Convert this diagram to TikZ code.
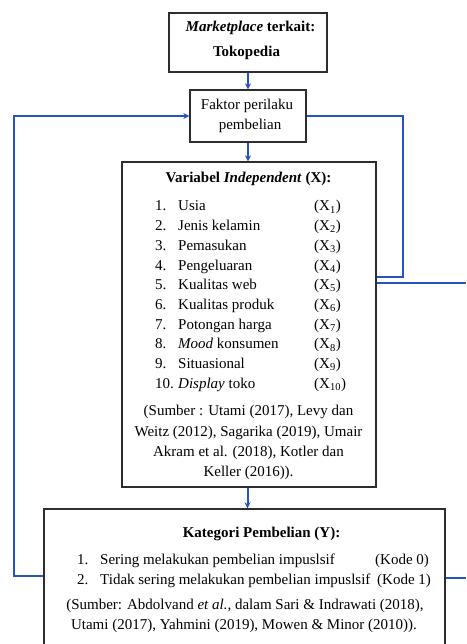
\documentclass[tikz,border=0pt]{standalone}
\usepackage{fontspec}
\setmainfont{Liberation Serif}
\usetikzlibrary{arrows.meta}
\definecolor{lnblue}{RGB}{38,84,190}
\definecolor{boxgray}{RGB}{45,45,45}
\begin{document}
\begin{tikzpicture}[x=1pt,y=-1pt,
  box/.style={draw=boxgray, line width=1.4pt, inner sep=0pt, fill=white},
  conn/.style={draw=lnblue, line width=2pt},
  arr/.style={conn, -{Stealth[length=6pt,width=6pt]}},
  txt/.style={inner sep=0pt, font=\fontsize{15}{19}\selectfont, anchor=base west},
  ctxt/.style={inner sep=0pt, font=\fontsize{15}{19}\selectfont, anchor=base}
]
\clip (0,0) rectangle (466,644);
\fill[white] (0,0) rectangle (466,644);

% boxes
\node[box, minimum width=158pt, minimum height=59pt] (top) at (248,42.5) {};
\node[box, minimum width=116pt, minimum height=52pt] (faktor) at (248,116) {};
\node[box, minimum width=254pt, minimum height=325pt] (var) at (249,324.5) {};
\node[box, minimum width=401pt, minimum height=191pt] (kat) at (244.5,604.5) {};

% top box text
\node[ctxt] (t1) at (250.5,32) {\textbf{\textit{Marketplace} terkait:}};
\node[ctxt] (t2) at (246.5,57) {\textbf{Tokopedia}};

% faktor text
\node[ctxt] (f1) at (247,110) {Faktor perilaku};
\node[ctxt] (f2) at (250,130) {pembelian};

% variabel text
\node[ctxt] (vt) at (248.5,183) {\textbf{Variabel \textit{Independent} (X):}};
\foreach \n/\lab/\xs [count=\i from 0] in {
  1./Usia/1, 2./Jenis kelamin/2, 3./Pemasukan/3, 4./Pengeluaran/4,
  5./Kualitas web/5, 6./Kualitas produk/6, 7./Potongan harga/7,
  8./\textit{Mood} konsumen/8, 9./Situasional/9, 10./\textit{Display} toko/10} {
  \node[txt] (vn\i) at (155,211+19.7*\i) {\n};
  \node[txt] (vl\i) at (178,211+19.7*\i) {\lab};
  \node[txt] (vx\i) at (314,211+19.7*\i) {(X\textsubscript{\xs})};
}
\node[ctxt] (vs1) at (248.5,415) {(Sumber : Utami (2017), Levy dan};
\node[ctxt] (vs2) at (248.5,436) {Weitz (2012), Sagarika (2019), Umair};
\node[ctxt] (vs3) at (248.5,456) {Akram et al. (2018), Kotler dan};
\node[ctxt] (vs4) at (248.5,476) {Keller (2016)).};

% kategori text
\node[ctxt] (kt) at (261.5,537) {\textbf{Kategori Pembelian (Y):}};
\node[txt] (kn1) at (77,564) {1.};
\node[txt] (kl1) at (100,564) {Sering melakukan pembelian impuslsif};
\node[txt] (kc1) at (375,564) {(Kode 0)};
\node[txt] (kn2) at (77,584) {2.};
\node[txt] (kl2) at (100,584) {Tidak sering melakukan pembelian impuslsif};
\node[txt] (kc2) at (377,584) {(Kode 1)};
\node[ctxt] (ks1) at (245,609) {(Sumber: Abdolvand \textit{et al.}, dalam Sari \& Indrawati (2018),};
\node[ctxt] (ks2) at (244,629) {Utami (2017), Yahmini (2019), Mowen \& Minor (2010)).};

% connectors
\coordinate (lk) at (14,576);
\coordinate (rc) at (403,277);
\coordinate (edgeA) at (466,283);
\coordinate (edgeB) at (466,578);

\draw[arr] (top.south) -- (top.south |- faktor.north);
\draw[arr] (faktor.south) -- (faktor.south |- var.north);
\draw[arr] ([xshift=-1.5pt]var.south) -- ([xshift=-1.5pt]var.south |- kat.north);

\draw[arr] (kat.west |- lk) -- (lk) |- (faktor.west);
\draw[conn] (faktor.east) -| (rc) -- (var.east |- rc);
\draw[conn] (var.east |- edgeA) -- (edgeA);
\draw[conn] (kat.east |- edgeB) -- (edgeB);
\end{tikzpicture}
\end{document}
